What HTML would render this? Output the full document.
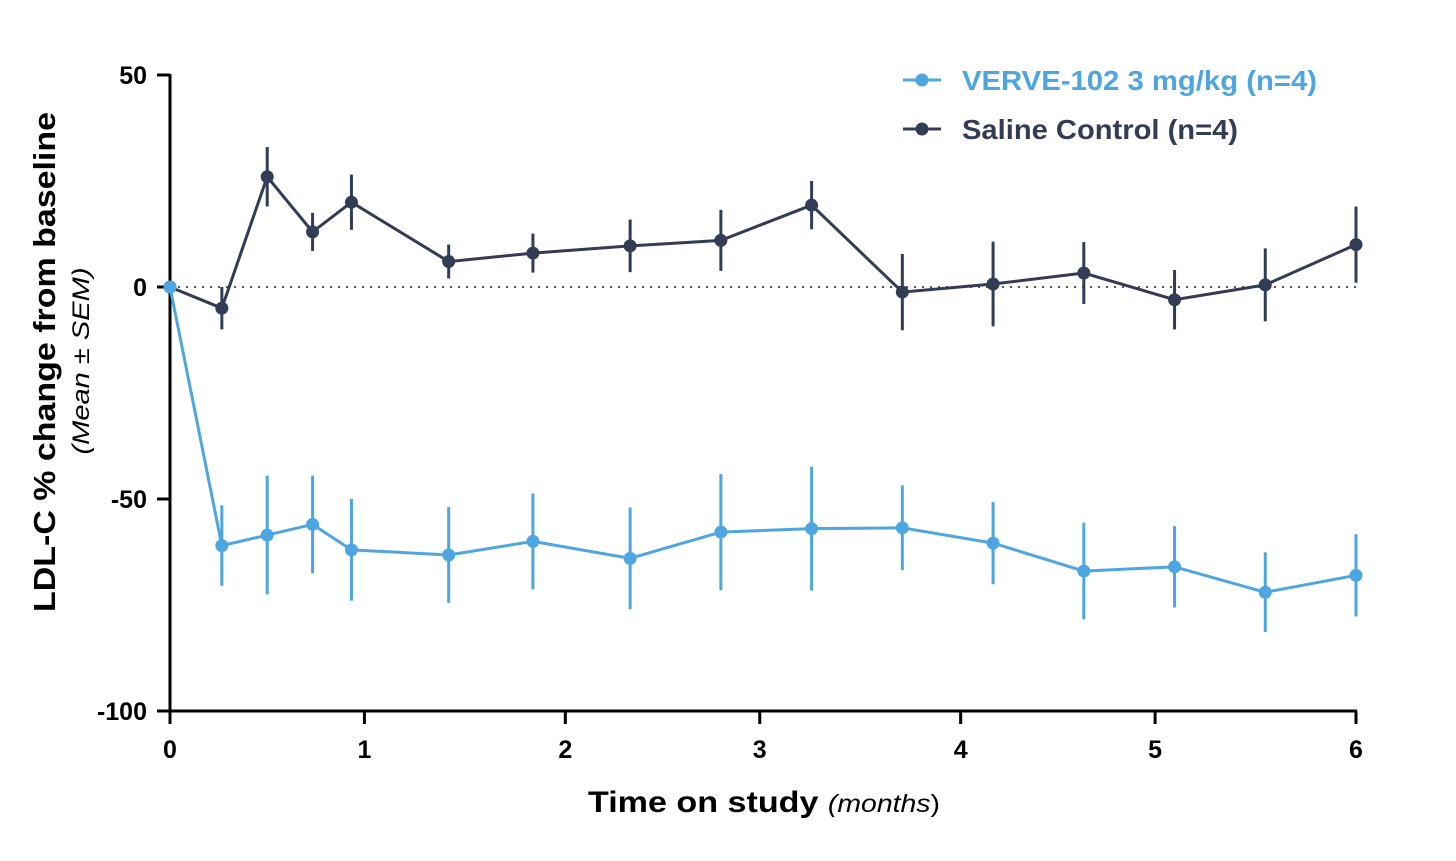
<!DOCTYPE html>
<html><head><meta charset="utf-8"><style>
html,body{margin:0;padding:0;background:#fff;width:1456px;height:861px;overflow:hidden}
svg text{font-family:"Liberation Sans",Arial,sans-serif}
</style></head><body>
<svg id="chart" width="1456" height="861">
<line x1="170" y1="74" x2="170" y2="712" stroke="#000" stroke-width="3"/>
<line x1="169" y1="711" x2="1357" y2="711" stroke="#000" stroke-width="3"/>
<line x1="170" y1="287" x2="1356" y2="287" stroke="#555" stroke-width="2" stroke-dasharray="2,6"/>
<g id="ticks"></g>
<g id="series"></g>
<text transform="translate(55,362) rotate(-90)" text-anchor="middle" font-size="31" font-weight="bold" fill="#000" textLength="500" lengthAdjust="spacingAndGlyphs">LDL-C % change from baseline</text>
<text transform="translate(89,361) rotate(-90)" text-anchor="middle" font-size="24" font-style="italic" fill="#000" textLength="187" lengthAdjust="spacingAndGlyphs">(Mean ± SEM)</text>
<text x="764" y="812" text-anchor="middle" font-size="30" fill="#000" textLength="352" lengthAdjust="spacingAndGlyphs"><tspan font-weight="bold">Time on study</tspan> <tspan font-style="italic" font-size="25">(months</tspan><tspan font-size="25">)</tspan></text>
<g>
<g>
<line x1="903" y1="80" x2="941" y2="80" stroke="#4ea6e0" stroke-width="3"/>
<circle cx="922" cy="80" r="6.5" fill="#4ea6e0"/>
<text x="962" y="90" font-size="28" font-weight="bold" fill="#4ea6e0" textLength="355" lengthAdjust="spacingAndGlyphs">VERVE-102 3 mg/kg (n=4)</text></g>
<g>
<line x1="903" y1="129" x2="941" y2="129" stroke="#323c55" stroke-width="3"/>
<circle cx="922" cy="129" r="6.5" fill="#323c55"/>
<text x="962" y="139" font-size="28" font-weight="bold" fill="#323c55" textLength="276" lengthAdjust="spacingAndGlyphs">Saline Control (n=4)</text></g>
</g>
</svg>
<script>
const days = [0, 8, 15, 22, 28, 43, 56, 71, 85, 99, 113, 127, 141, 155, 169, 183];
const salineMean = [0, -5, 26, 13, 20, 6, 8, 9.7, 11, 19.3, -1.2, 0.7, 3.3, -3, 0.5, 10];
const salineSem = [0, 5, 7, 4.5, 6.5, 4, 4.6, 6.2, 7.2, 5.7, 9, 10, 7.3, 7, 8.6, 9];
const verveMean = [0, -61, -58.5, -56, -62, -63.2, -60, -64, -57.8, -57, -56.8, -60.4, -67, -66, -72, -68];
const verveSem = [0, 9.5, 14, 11.5, 12, 11.3, 11.3, 12, 13.7, 14.6, 10, 9.7, 11.4, 9.6, 9.4, 9.7];
const xTickDays = [0, 30, 61, 91, 122, 152, 183];
const xTickLabels = ["0", "1", "2", "3", "4", "5", "6"];
const yTicks = [50, 0, -50, -100];

const NS = "http://www.w3.org/2000/svg";
const sx = d => 170 + d * (1186 / 183);
const sy = v => 287 - v * 4.24;
function mk(tag, attrs, parent) {
  const e = document.createElementNS(NS, tag);
  for (const k in attrs) e.setAttribute(k, attrs[k]);
  parent.appendChild(e);
  return e;
}
const tg = document.getElementById("ticks");
xTickDays.forEach((d, i) => {
  const t = mk("line", {x1: sx(d), x2: sx(d), y1: 711, y2: 724, stroke: "#000", "stroke-width": 3}, tg);
  
  
  const l = mk("text", {x: sx(d), y: 758, "text-anchor": "middle", "font-size": 25, "font-weight": "bold"}, tg);
  l.textContent = xTickLabels[i];
  
  
});
yTicks.forEach(v => {
  const t = mk("line", {x1: 157, x2: 170, y1: sy(v), y2: sy(v), stroke: "#000", "stroke-width": 3}, tg);
  
  
  const l = mk("text", {x: 147, y: sy(v) + 9, "text-anchor": "end", "font-size": 25, "font-weight": "bold"}, tg);
  l.textContent = String(v);
  
  
});
const sg = document.getElementById("series");
function drawSeries(mean, sem, color, name) {
  const g = mk("g", {}, sg);
  
  
  days.forEach((d, i) => {
    if (sem[i] > 0) {
      const e = mk("line", {x1: sx(d), x2: sx(d), y1: sy(mean[i] + sem[i]), y2: sy(mean[i] - sem[i]), stroke: color, "stroke-width": 3}, g);
      
      
    }
  });
  const p = mk("polyline", {points: days.map((d, i) => sx(d) + "," + sy(mean[i])).join(" "), fill: "none", stroke: color, "stroke-width": 3}, g);
  
  
  days.forEach((d, i) => {
    const c = mk("circle", {cx: sx(d), cy: sy(mean[i]), r: 6.5, fill: color}, g);
    
    
  });
}
drawSeries(salineMean, salineSem, "#323c55", "saline");
drawSeries(verveMean, verveSem, "#4ea6e0", "verve");
</script>
</body></html>
